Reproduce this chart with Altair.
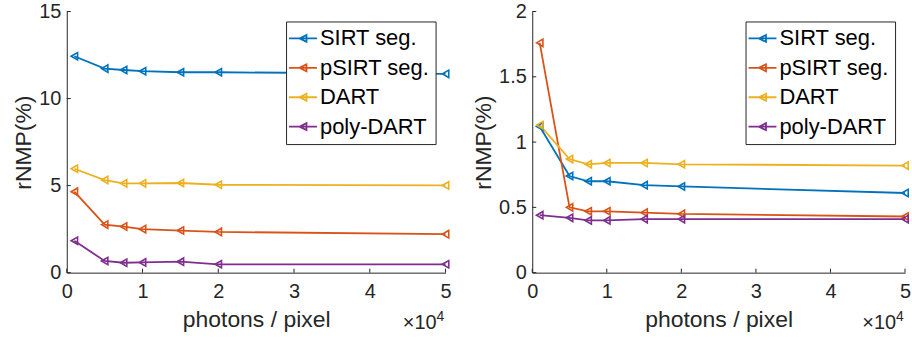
import altair as alt
import pandas as pd

photons = [1000, 5000, 7500, 10000, 15000, 20000, 50000]
methods = ["SIRT seg.", "pSIRT seg.", "DART", "poly-DART"]
colors = ["#0072BD", "#D95319", "#EDB120", "#7E2F8E"]

# left panel
sirt_a = [12.43, 11.72, 11.64, 11.57, 11.51, 11.51, 11.42]
psirt_a = [4.65, 2.76, 2.65, 2.50, 2.42, 2.34, 2.21]
dart_a = [5.97, 5.32, 5.13, 5.13, 5.15, 5.05, 5.01]
poly_a = [1.83, 0.67, 0.57, 0.59, 0.63, 0.48, 0.48]

# right panel
sirt_b = [1.12, 0.74, 0.70, 0.70, 0.67, 0.66, 0.61]
psirt_b = [1.76, 0.50, 0.47, 0.47, 0.46, 0.45, 0.43]
dart_b = [1.13, 0.87, 0.83, 0.84, 0.84, 0.83, 0.82]
poly_b = [0.44, 0.42, 0.40, 0.40, 0.41, 0.41, 0.41]

x_ticks = [0, 10000, 20000, 30000, 40000, 50000]
y_ticks_a = [0, 5, 10, 15]
y_ticks_b = [0, 0.5, 1, 1.5, 2]

FONT = "Liberation Sans"
DARK = "#262626"
LEGEND_SYMBOL = "M-1.4,0H1.4M0.35,-0.35L-0.35,0L0.35,0.35Z"


def to_long(series):
    rows = []
    for i, (m, vals) in enumerate(zip(methods, series)):
        for p, v in zip(photons, vals):
            rows.append({"method": m, "photons": p, "rnmp": v, "k": i})
    return pd.DataFrame(rows)


def panel(series, ymax, yticks, W, H):
    df = to_long(series)
    x = alt.X("photons:Q", scale=alt.Scale(domain=[0, 50000], nice=False, zero=False),
              axis=alt.Axis(values=x_ticks, labelExpr="datum.value / 10000",
                            title="photons / pixel"))
    y = alt.Y("rnmp:Q", scale=alt.Scale(domain=[0, ymax], nice=False),
              axis=alt.Axis(values=yticks, format="~g", title="rNMP(%)"))
    color = alt.Color("method:N", scale=alt.Scale(domain=methods, range=colors),
                      sort=methods,
                      legend=alt.Legend(title=None, orient="top-right", offset=10,
                                        padding=6, fillColor="white", strokeColor=DARK,
                                        labelFontSize=22, labelColor="black", labelFont=FONT,
                                        symbolSize=400, symbolStrokeWidth=1.8,
                                        symbolType=LEGEND_SYMBOL, labelOffset=6,
                                        rowPadding=7.5, labelLimit=300))
    lines = alt.Chart(df).mark_line(strokeWidth=1.8).encode(x=x, y=y, color=color,
                                                             order="photons:Q")
    pts = alt.Chart(df).mark_point(shape="triangle-left", filled=False, size=55,
                                   strokeWidth=1.6, opacity=1).encode(x=x, y=y, color=color)
    yt = alt.Chart(pd.DataFrame({"rnmp": yticks})).mark_rule(color=DARK, strokeWidth=1).encode(
        y=y, x=alt.value(0), x2=alt.value(4))
    xt = alt.Chart(pd.DataFrame({"photons": x_ticks})).mark_rule(color=DARK, strokeWidth=1).encode(
        x=x, y=alt.value(H), y2=alt.value(H - 4))
    t1 = alt.Chart(pd.DataFrame({"t": ["×10"]})).mark_text(
        align="right", baseline="alphabetic", fontSize=20, color=DARK, font=FONT).encode(
        text="t:N", x=alt.value(W - 9), y=alt.value(H + 57))
    t2 = alt.Chart(pd.DataFrame({"t": ["4"]})).mark_text(
        align="left", baseline="alphabetic", fontSize=14, color=DARK, font=FONT).encode(
        text="t:N", x=alt.value(W - 9), y=alt.value(H + 49))
    return alt.layer(lines, pts, yt, xt, t1, t2).properties(width=W, height=H)


left = panel([sirt_a, psirt_a, dart_a, poly_a], 15, y_ticks_a, 380, 262)
right = panel([sirt_b, psirt_b, dart_b, poly_b], 2, y_ticks_b, 374, 262)

chart = alt.hconcat(left, right, spacing=20).resolve_scale(color="independent").properties(
    padding={"left": 12, "top": 1, "right": 0, "bottom": 0},
    background="white",
).configure_view(stroke=None).configure_axis(
    domainColor=DARK, domainWidth=1, ticks=False, tickSize=0, grid=False,
    labelFont=FONT, labelFontSize=20, labelColor=DARK,
    titleFont=FONT, titleFontSize=23, titleFontWeight="normal", titleColor=DARK,
    labelFlush=False,
).configure_axisX(labelPadding=9, titlePadding=7).configure_axisY(
    labelPadding=6, titlePadding=3)

chart.save("out.html", embed_options={"renderer": "svg", "actions": False})
